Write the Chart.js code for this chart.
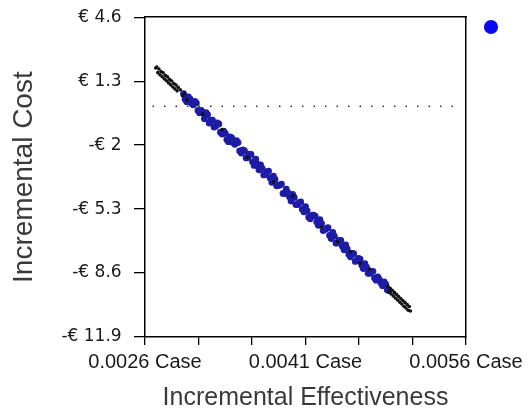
<!DOCTYPE html>
<html>
<head>
<meta charset="utf-8">
<script src="https://cdn.jsdelivr.net/npm/chart.js@4.4.1/dist/chart.umd.min.js"></script>
<style>
  html, body { margin: 0; padding: 0; background: #fff; }
  canvas { display: block; }
</style>
</head>
<body>
<canvas id="cePlane" width="528" height="416"></canvas>
<script>
// axis ticks
const xTickValues = [0.0026, 0.0031, 0.0036, 0.0041, 0.0046, 0.0051, 0.0056];
const xTickLabels = ['0.0026 Case', '', '', '0.0041 Case', '', '', '0.0056 Case'];
const yTickValues = [4.6, 1.3, -2, -5.3, -8.6, -11.9];
const yTickLabels = ['€ 4.6 ', '€ 1.3 ', '-€ 2 ', '-€ 5.3 ', '-€ 8.6 ', '-€ 11.9 '];

// simulation points, dense middle part (blue)
const blueX = [0.00296, 0.00299, 0.00302, 0.00305, 0.00308, 0.00311, 0.00314, 0.00317, 0.00320,
  0.00323, 0.00326, 0.00329, 0.00332, 0.00335, 0.00338, 0.00341, 0.00344, 0.00347, 0.00350,
  0.00353, 0.00356, 0.00359, 0.00362, 0.00365, 0.00368, 0.00371, 0.00374, 0.00377, 0.00380,
  0.00383, 0.00386, 0.00389, 0.00392, 0.00395, 0.00398, 0.00401, 0.00404, 0.00407, 0.00410,
  0.00413, 0.00416, 0.00419, 0.00422, 0.00425, 0.00428, 0.00431, 0.00434, 0.00437, 0.00440,
  0.00443, 0.00446, 0.00449, 0.00452, 0.00455, 0.00458, 0.00461, 0.00464, 0.00467, 0.00470,
  0.00473, 0.00476, 0.00479, 0.00482, 0.00485, 0.00488];
const blueY = [0.65, 0.24, 0.39, 0.08, 0.17, -0.33, -0.32, -0.32, -0.86,
  -0.71, -1.02, -0.91, -1.43, -1.39, -1.82, -1.63, -1.96, -1.87, -2.41,
  -2.30, -2.64, -2.48, -3.05, -2.98, -3.02, -3.54, -3.38, -3.69, -3.60,
  -4.10, -4.06, -4.49, -4.27, -4.66, -4.54, -5.07, -4.97, -5.31, -5.17,
  -5.72, -5.63, -5.66, -6.14, -6.05, -6.36, -6.26, -6.82, -6.70, -7.04,
  -6.91, -7.40, -7.36, -7.76, -7.60, -7.93, -7.88, -8.37, -8.30, -8.61,
  -8.51, -8.97, -8.93, -9.25, -9.19, -9.50];

// second batch of blue points, in between the first
const blueX2 = [0.002975, 0.003005, 0.003035, 0.003065, 0.003095, 0.003125, 0.003155, 0.003185,
  0.003215, 0.003245, 0.003275, 0.003305, 0.003335, 0.003365, 0.003395, 0.003425,
  0.003455, 0.003485, 0.003515, 0.003545, 0.003575, 0.003605, 0.003635, 0.003665,
  0.003695, 0.003725, 0.003755, 0.003785, 0.003815, 0.003845, 0.003875, 0.003905,
  0.003935, 0.003965, 0.003995, 0.004025, 0.004055, 0.004085, 0.004115, 0.004145,
  0.004175, 0.004205, 0.004235, 0.004265, 0.004295, 0.004325, 0.004355, 0.004385,
  0.004415, 0.004445, 0.004475, 0.004505, 0.004535, 0.004565, 0.004595, 0.004625,
  0.004655, 0.004685, 0.004715, 0.004745, 0.004775, 0.004805, 0.004835, 0.004865];
const blueY2 = [0.37, 0.49, 0.16, 0.25, -0.21, -0.21, -0.64, -0.43,
  -0.73, -1.07, -0.85, -1.33, -1.28, -1.72, -1.58, -1.88,
  -1.77, -2.30, -2.25, -2.66, -2.47, -2.86, -2.73, -3.27,
  -3.20, -3.52, -3.34, -3.92, -3.77, -4.08, -4.01, -4.50,
  -4.45, -4.88, -4.70, -5.07, -4.93, -5.44, -5.39, -5.80,
  -5.61, -5.97, -5.85, -6.41, -6.31, -6.66, -6.50, -7.06,
  -6.91, -7.22, -7.15, -7.64, -7.59, -8.00, -7.84, -8.19,
  -8.12, -8.61, -8.53, -8.86, -8.80, -9.11, -9.06, -9.47];

// sparse points at both ends (black)
const blackX = [0.00270, 0.00271, 0.00273, 0.00275, 0.00277, 0.00279, 0.00281, 0.00283, 0.00285,
  0.00287, 0.00289, 0.00291, 0.00293, 0.00295, 0.00297, 0.00299,
  0.00272, 0.00274, 0.00276, 0.00278, 0.00280, 0.00282, 0.00284, 0.00286, 0.00288, 0.00290,
  0.00314, 0.00332, 0.00356, 0.00380, 0.00398, 0.00425, 0.00440, 0.00452, 0.00461, 0.00470,
  0.00487, 0.00489, 0.00491, 0.00493, 0.00495, 0.00497, 0.00499, 0.00501, 0.00503, 0.00505, 0.00507,
  0.00488, 0.00490, 0.00492, 0.00494, 0.00496, 0.00498, 0.00500, 0.00502, 0.00504, 0.00506, 0.00508];
const blackY = [1.98, 2.03, 1.93, 1.80, 1.73, 1.60, 1.52, 1.39, 1.31,
  1.18, 1.10, 0.98, 0.86, 0.55, 0.66, 0.34,
  1.74, 1.63, 1.53, 1.42, 1.32, 1.21, 1.11, 1.00, 0.90, 0.80,
  -0.40, -1.20, -2.62, -3.90, -4.62, -6.22, -6.98, -7.50, -8.10, -8.40,
  -9.28, -9.39, -9.49, -9.60, -9.70, -9.81, -9.91, -10.02, -10.12, -10.22, -10.33,
  -9.57, -9.68, -9.78, -9.89, -9.99, -10.10, -10.20, -10.31, -10.41, -10.52, -10.56];

// zero cost reference line
const zeroLineX = [0.00267, 0.00557];
const zeroLineY = [0, 0];

const toPoints = (xs, ys) => xs.map((x, i) => ({ x: x, y: ys[i] }));

const ctx = document.getElementById('cePlane').getContext('2d');
new Chart(ctx, {
  type: 'scatter',
  data: {
    datasets: [
      {
        label: 'ends',
        data: toPoints(blackX, blackY),
        backgroundColor: '#111111',
        borderWidth: 0,
        pointRadius: 1.8
      },
      {
        label: 'iterations',
        data: toPoints(blueX, blueY).concat(toPoints(blueX2, blueY2)),
        backgroundColor: '#1c1ca6',
        borderWidth: 0,
        pointRadius: 3.4
      },
      {
        label: 'zero',
        type: 'line',
        data: toPoints(zeroLineX, zeroLineY),
        borderColor: '#333333',
        borderWidth: 1.5,
        borderDash: [1.5, 10],
        pointRadius: 0,
        fill: false
      }
    ]
  },
  options: {
    responsive: false,
    animation: false,
    devicePixelRatio: 1,
    layout: { padding: { left: 0, top: 16, right: 17, bottom: 0 } },
    plugins: {
      tooltip: { enabled: false },
      legend: {
        position: 'right',
        align: 'start',
        labels: {
          usePointStyle: true,
          padding: 6,
          font: { size: 10 },
          generateLabels: () => [{
            text: '',
            fillStyle: '#0a0af2',
            strokeStyle: '#0a0af2',
            lineWidth: 0,
            pointStyle: 'circle',
            datasetIndex: 1
          }]
        }
      }
    },
    scales: {
      x: {
        type: 'linear',
        position: 'bottom',
        min: 0.0026,
        max: 0.0056,
        afterBuildTicks: s => { s.ticks = xTickValues.map(v => ({ value: v })); },
        afterFit: s => { s.height = 79; },
        ticks: {
          autoSkip: false,
          maxRotation: 0,
          padding: 5,
          color: '#1a1a1a',
          font: { family: 'Liberation Sans', size: 20 },
          callback: (v, i) => xTickLabels[i]
        },
        grid: { drawOnChartArea: false, drawTicks: true, tickLength: 8, color: '#000', lineWidth: 1.3 },
        border: { color: '#000', width: 1.5 },
        title: {
          display: true,
          text: 'Incremental Effectiveness',
          color: '#3a3a3a',
          font: { family: 'Liberation Sans', size: 25 },
          padding: { top: 0, bottom: 3 }
        }
      },
      y: {
        type: 'linear',
        position: 'left',
        min: -11.9,
        max: 4.6,
        afterBuildTicks: s => { s.ticks = yTickValues.map(v => ({ value: v })); },
        afterFit: s => { s.width = 145; },
        ticks: {
          padding: 7,
          color: '#1a1a1a',
          font: { family: 'DejaVu Sans', size: 17 },
          callback: (v, i) => yTickLabels[i]
        },
        grid: { drawOnChartArea: false, drawTicks: true, tickLength: 11, color: '#000', lineWidth: 1.3 },
        border: { color: '#000', width: 1.5 },
        title: {
          display: true,
          text: 'Incremental Cost',
          color: '#3a3a3a',
          font: { family: 'Liberation Sans', size: 28 },
          padding: { top: 7, bottom: 0 }
        }
      },
      x2: {
        type: 'linear',
        position: 'top',
        min: 0.0026,
        max: 0.0056,
        afterFit: s => { s.height = 0; },
        ticks: { display: false },
        grid: { display: false },
        border: { color: '#000', width: 1.5 }
      },
      y2: {
        type: 'linear',
        position: 'right',
        min: -11.9,
        max: 4.6,
        afterFit: s => { s.width = 14; },
        ticks: { display: false },
        grid: { display: false },
        border: { color: '#000', width: 1.5 }
      }
    }
  }
});
</script>
</body>
</html>
